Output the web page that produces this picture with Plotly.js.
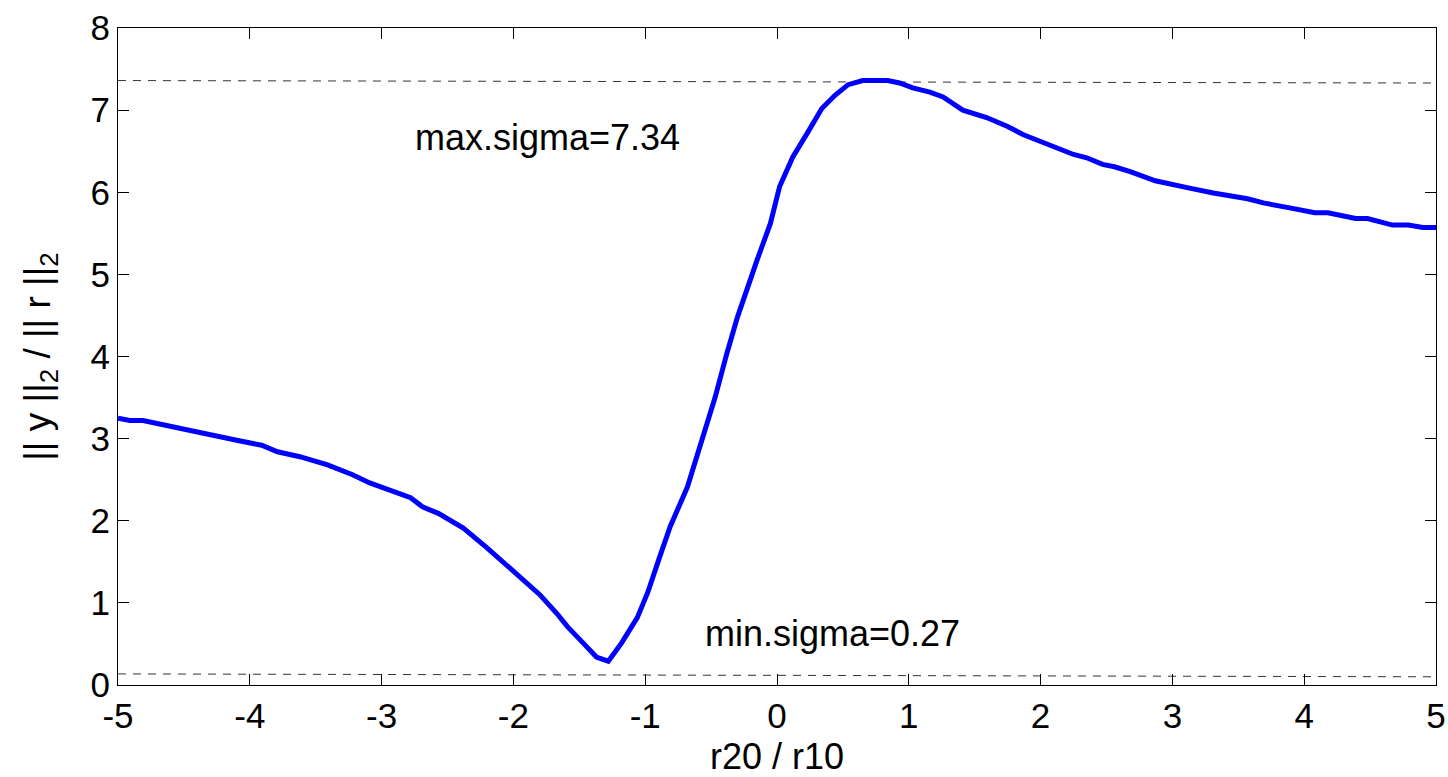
<!DOCTYPE html>
<html>
<head>
<meta charset="utf-8">
<script src="https://cdn.plot.ly/plotly-3.0.1.min.js"></script>
<style>html,body{margin:0;padding:0;background:#fff;}#chart{width:1448px;height:777px;}</style>
</head>
<body>
<div id="chart"></div>
<script>
const ratio = [-5, -4.91, -4.81, -4.61, -4.45, -4.30, -4.10, -3.91, -3.79, -3.62, -3.49, -3.41, -3.22, -3.09, -2.78, -2.69, -2.57, -2.38, -2.20, -1.99, -1.80, -1.67, -1.59, -1.47, -1.37, -1.28, -1.18, -1.06, -0.98, -0.89, -0.81, -0.68, -0.58, -0.47, -0.38, -0.30, -0.15, -0.05, 0.02, 0.12, 0.23, 0.34, 0.44, 0.54, 0.65, 0.84, 0.93, 1.03, 1.16, 1.26, 1.41, 1.59, 1.75, 1.87, 2.25, 2.35, 2.47, 2.56, 2.68, 2.75, 2.87, 3.13, 3.31, 3.57, 3.69, 3.89, 4.08, 4.18, 4.39, 4.48, 4.67, 4.79, 4.90, 5.0];
const sigma = [3.25, 3.22, 3.22, 3.15, 3.09, 3.05, 2.98, 2.92, 2.84, 2.78, 2.71, 2.68, 2.56, 2.46, 2.28, 2.17, 2.09, 1.91, 1.67, 1.38, 1.10, 0.87, 0.71, 0.51, 0.34, 0.29, 0.51, 0.82, 1.13, 1.56, 1.93, 2.41, 2.95, 3.50, 4.04, 4.48, 5.18, 5.62, 6.07, 6.43, 6.72, 7.02, 7.18, 7.31, 7.36, 7.36, 7.33, 7.27, 7.22, 7.16, 7.00, 6.91, 6.80, 6.70, 6.46, 6.42, 6.34, 6.31, 6.25, 6.21, 6.14, 6.05, 5.99, 5.92, 5.87, 5.81, 5.75, 5.75, 5.68, 5.68, 5.60, 5.60, 5.57, 5.57];
const refX = [-5, 5];
const maxLineY = [7.36, 7.33];
const minLineY = [0.135, 0.10];
const maxLabel = {x: -1.74, y: 6.67, text: 'max.sigma=7.34'};
const minLabel = {x: 0.42, y: 0.63, text: 'min.sigma=0.27'};
const xTicks = [-5, -4, -3, -2, -1, 0, 1, 2, 3, 4, 5];
const yTicks = [0, 1, 2, 3, 4, 5, 6, 7, 8];

const FONT = 'Liberation Sans, Arial, Helvetica, sans-serif';
const dashLine = {color: '#333', width: 1, dash: '8px,7px'};

const traces = [
  {x: refX, y: maxLineY, mode: 'lines', line: dashLine, hoverinfo: 'skip', showlegend: false},
  {x: refX, y: minLineY, mode: 'lines', line: dashLine, hoverinfo: 'skip', showlegend: false},
  {x: ratio, y: sigma, mode: 'lines', line: {color: '#0000ff', width: 5}, showlegend: false}
];

const axisCommon = {
  showgrid: false, zeroline: false, showline: true, linecolor: '#000', linewidth: 1,
  mirror: 'allticks', ticks: 'inside', ticklen: 11, tickwidth: 1, tickcolor: '#000',
  tickfont: {family: FONT, size: 35, color: '#000'}
};

const layout = {
  width: 1448, height: 777,
  margin: {l: 118, r: 12, t: 28, b: 92},
  paper_bgcolor: '#fff', plot_bgcolor: '#fff',
  showlegend: false,
  xaxis: Object.assign({}, axisCommon, {
    range: [-5, 5], tickmode: 'array', tickvals: xTicks, ticktext: xTicks.map(String),
    title: {text: 'r20 / r10', font: {family: FONT, size: 36, color: '#000'}, standoff: 17}
  }),
  yaxis: Object.assign({}, axisCommon, {
    range: [0, 8], tickmode: 'array', tickvals: yTicks, ticktext: yTicks.map(String),
    title: {text: '|| y ||<sub>2</sub> / || r ||<sub>2</sub>', font: {family: FONT, size: 37, color: '#000'}, standoff: 28}
  }),
  annotations: [maxLabel, minLabel].map(a => ({
    x: a.x, y: a.y, xref: 'x', yref: 'y', text: a.text, showarrow: false,
    font: {family: FONT, size: 36, color: '#000'}
  }))
};

Plotly.newPlot('chart', traces, layout, {displayModeBar: false, staticPlot: true});
</script>
</body>
</html>
